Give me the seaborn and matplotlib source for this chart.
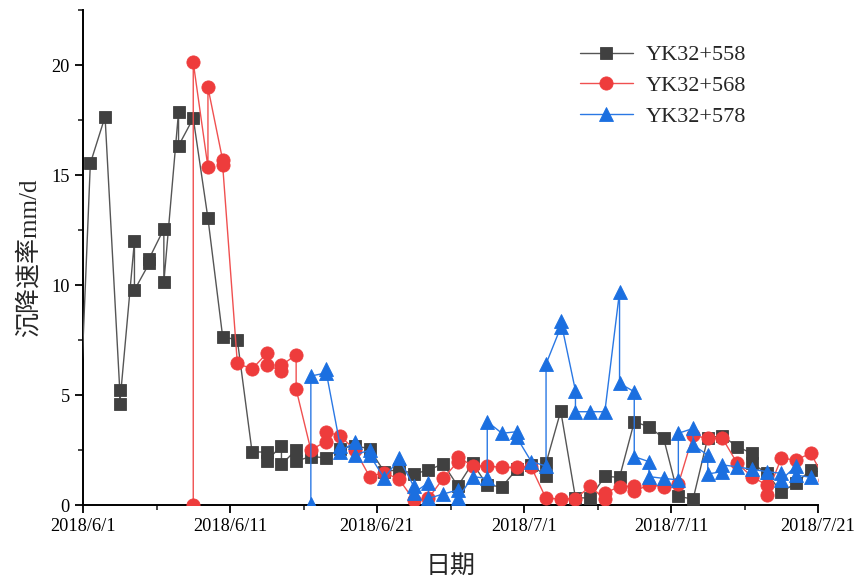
import numpy as np
import pandas as pd
import matplotlib
matplotlib.use("Agg")
import matplotlib.pyplot as plt
import matplotlib.dates as mdates
import matplotlib.ticker as mticker
import seaborn as sns

# ---- data (day offset k => measurement at 2018/6/1 + k days, noon) ----
series_names = ["YK32+558", "YK32+568", "YK32+578"]

days_558 = [-1, 0, 1, 2, 2, 3, 3, 4, 4, 5, 5, 6, 6, 7, 8, 9, 10, 11, 12, 12, 13, 13, 14, 14,
            15, 16, 17, 18, 19, 20, 21, 22, 23, 24, 25, 26, 27, 28, 29, 30, 31, 31, 32, 33,
            34, 35, 36, 37, 38, 39, 40, 41, 42, 43, 44, 45, 45, 46, 47, 48, 49, 50]
vals_558 = [-0.8, 15.53, 17.65, 5.23, 4.58, 12.01, 9.77, 10.98, 11.2, 12.55, 10.12, 17.88,
            16.33, 17.58, 13.03, 7.65, 7.5, 2.42, 2.4, 2.0, 2.7, 1.85, 2.5, 2.0, 2.2, 2.15,
            2.55, 2.7, 2.55, 1.5, 1.62, 1.42, 1.58, 1.88, 0.86, 1.9, 0.9, 0.83, 1.62, 1.82,
            1.32, 1.9, 4.27, 0.33, 0.32, 1.3, 1.26, 3.78, 3.56, 3.03, 0.4, 0.26, 3.05, 3.15,
            2.65, 2.35, 1.9, 1.45, 0.6, 0.98, 1.6, 1.44]

days_568 = [7, 7, 8, 8, 9, 9, 10, 11, 12, 12, 13, 13, 14, 14, 15, 16, 16, 17, 18, 19, 20, 21,
            22, 23, 24, 25, 25, 26, 27, 28, 29, 30, 31, 32, 33, 34, 35, 35, 36, 37, 37, 38,
            39, 40, 41, 42, 43, 44, 45, 46, 46, 47, 48, 49, 50]
vals_568 = [0, 20.12, 15.35, 18.98, 15.68, 15.45, 6.44, 6.18, 6.89, 6.36, 6.1, 6.36, 6.82,
            5.26, 2.5, 2.88, 3.33, 3.14, 2.5, 1.29, 1.47, 1.17, 0.23, 0.3, 1.21, 1.97, 2.2,
            1.77, 1.77, 1.71, 1.71, 1.71, 0.3, 0.28, 0.28, 0.85, 0.26, 0.55, 0.83, 0.86, 0.62,
            0.92, 0.83, 0.95, 3.16, 3.03, 3.03, 1.9, 1.29, 0.91, 0.45, 2.12, 2.05, 2.35, 1.13]

days_578 = [15, 15, 16, 16, 17, 17, 18, 18, 19, 19, 20, 21, 22, 22, 23, 23, 24, 25, 25, 26,
            27, 27, 28, 29, 29, 30, 31, 31, 32, 32, 33, 33, 34, 35, 36, 36, 37, 37, 38, 38,
            39, 40, 40, 41, 41, 42, 42, 43, 43, 44, 45, 46, 47, 47, 48, 48, 49]
vals_578 = [0.05, 5.86, 6.0, 6.2, 2.68, 2.42, 2.88, 2.27, 2.5, 2.27, 1.21, 2.12, 0.85, 0.55,
            1.01, 0.3, 0.5, 0.68, 0.3, 1.29, 1.21, 3.79, 3.26, 3.33, 3.08, 1.97, 1.77, 6.41,
            8.08, 8.38, 5.2, 4.24, 4.24, 4.24, 9.7, 5.53, 5.15, 2.2, 1.97, 1.29, 1.21, 1.14,
            3.26, 3.48, 2.73, 2.27, 1.41, 1.52, 1.82, 1.74, 1.62, 1.52, 1.44, 1.14, 1.77, 1.36,
            1.26]

x_tick_dates = ["2018-06-01", "2018-06-11", "2018-06-21", "2018-07-01", "2018-07-11", "2018-07-21"]
y_ticks = [0, 5, 10, 15, 20]

base = pd.Timestamp("2018-06-01")


def to_df(days, vals):
    d = np.asarray(days, dtype=float) + 0.5
    return pd.DataFrame({"date": base + pd.to_timedelta(d, unit="D"), "value": vals})


sns.set_theme(style="ticks")
serif = ["Liberation Serif", "Noto Sans CJK SC"]
plt.rcParams["font.family"] = serif

fig = plt.figure(figsize=(8.56, 5.81), dpi=100)
ax = fig.add_axes([83 / 856, 1 - 505 / 581, (818 - 83) / 856, (505 - 10) / 581])

styles = [
    dict(color="#555555", marker="s", mfc="#404040", mec="#404040", ms=8.5),
    dict(color="#f05050", marker="o", mfc="#ee3c3c", mec="#ee3c3c", ms=9.5),
    dict(color="#2a78e4", marker="^", mfc="#1b6fe0", mec="#1b6fe0", ms=10),
]
datasets = [(days_558, vals_558), (days_568, vals_568), (days_578, vals_578)]

for i, ((dd, vv), name, st) in enumerate(zip(datasets, series_names, styles)):
    df = to_df(dd, vv)
    sns.lineplot(data=df, x="date", y="value", sort=False, estimator=None, ax=ax,
                 color=st["color"], marker=st["marker"], markersize=st["ms"],
                 markerfacecolor=st["mfc"], markeredgecolor=st["mec"], markeredgewidth=0.6,
                 linewidth=1.0, label=name, zorder=3 + i)

ax.set_xlim(pd.Timestamp(x_tick_dates[0]), pd.Timestamp(x_tick_dates[-1]))
ax.set_ylim(0, 22.5)

ax.set_xticks([pd.Timestamp(t) for t in x_tick_dates])
ax.xaxis.set_major_formatter(mticker.FuncFormatter(
    lambda v, p: (lambda d: f"{d.year}/{d.month}/{d.day}")(mdates.num2date(v))))
ax.xaxis.set_minor_locator(mdates.DayLocator(bymonthday=[6, 16, 26]))
ax.set_yticks(y_ticks)
ax.yaxis.set_minor_locator(mticker.MultipleLocator(2.5))

for s in ["top", "right"]:
    ax.spines[s].set_visible(False)
for s in ["left", "bottom"]:
    ax.spines[s].set_linewidth(1.4)
    ax.spines[s].set_color("black")

ax.tick_params(axis="both", which="major", direction="out", length=6, width=1.3,
               labelsize=13.2, colors="black")
ax.tick_params(axis="both", which="minor", direction="out", length=3.5, width=1.2)
for lab in ax.get_xticklabels() + ax.get_yticklabels():
    lab.set_family(serif)

ax.set_xlabel("日期", fontsize=18, family=serif, labelpad=14)
ax.set_ylabel("沉降速率mm/d", fontsize=18, family=serif, labelpad=8)

leg = ax.legend(loc="upper right", bbox_to_anchor=(0.93, 0.97), frameon=False,
                prop={"family": serif, "size": 16}, handlelength=2.4, handletextpad=0.6,
                labelspacing=0.45)

fig.savefig("out.png", dpi=100)
